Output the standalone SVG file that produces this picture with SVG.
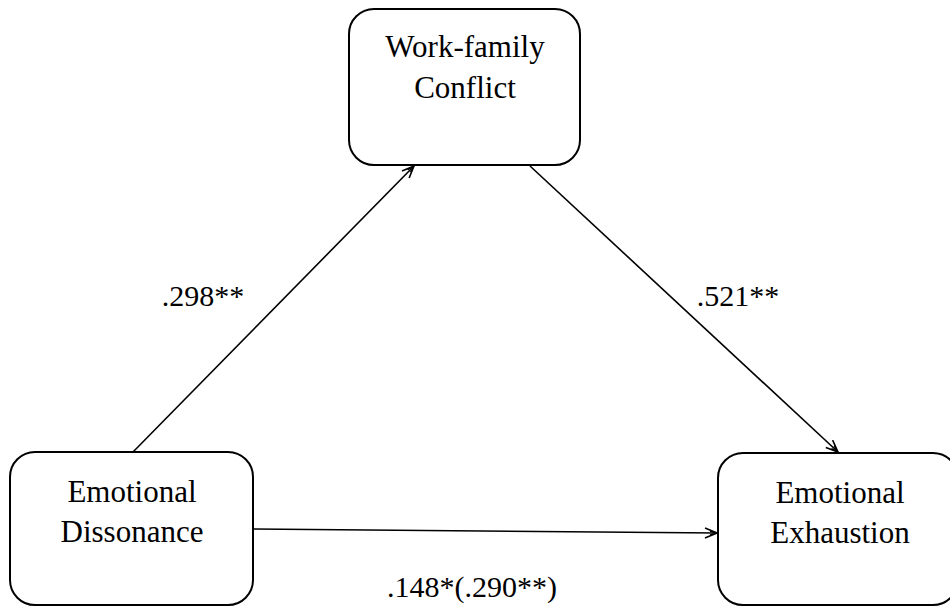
<svg xmlns="http://www.w3.org/2000/svg" width="950" height="607" viewBox="0 0 950 607">
  <style>
    .box { fill: #ffffff; stroke: #000000; stroke-width: 2; }
    .t { font-family: "Liberation Serif", "Times New Roman", serif; font-size: 31px; fill: #000000; text-anchor: middle; }
    .lbl { font-family: "Liberation Serif", "Times New Roman", serif; font-size: 30px; fill: #000000; text-anchor: middle; }
    .edge { stroke: #000000; stroke-width: 1.6; fill: none; marker-end: url(#arr); }
  </style>
  <defs>
    <marker id="arr" viewBox="0 0 14 12" refX="13" refY="6" markerWidth="14" markerHeight="12" markerUnits="userSpaceOnUse" orient="auto">
      <path d="M1,1 L13,6 L1,11 M6,4 L13,6 L6,8" fill="none" stroke="#000000" stroke-width="1.6"/>
    </marker>
  </defs>
  <rect width="950" height="607" fill="#ffffff"/>
  <g id="connectors">
    <line class="edge" x1="133" y1="452" x2="414" y2="166"/>
    <line class="edge" x1="530" y1="166" x2="838" y2="452"/>
    <line class="edge" x1="253" y1="529" x2="717" y2="533"/>
  </g>
  <g id="labels">
    <text class="lbl" x="203" y="306">.298**</text>
    <text class="lbl" x="738" y="306">.521**</text>
    <text class="lbl" x="472" y="597">.148*(.290**)</text>
  </g>
  <g id="node-wfc">
    <rect class="box" x="349" y="9" width="231" height="156" rx="25" ry="25"/>
    <text class="t" x="465" y="57">Work-family</text>
    <text class="t" x="465" y="98">Conflict</text>
  </g>
  <g id="node-ed">
    <rect class="box" x="10" y="452" width="243" height="153" rx="25" ry="25"/>
    <text class="t" x="132" y="502">Emotional</text>
    <text class="t" x="132" y="542">Dissonance</text>
  </g>
  <g id="node-ee">
    <rect class="box" x="718" y="453" width="240" height="152" rx="25" ry="25"/>
    <text class="t" x="840" y="503">Emotional</text>
    <text class="t" x="840" y="543">Exhaustion</text>
  </g>
</svg>
